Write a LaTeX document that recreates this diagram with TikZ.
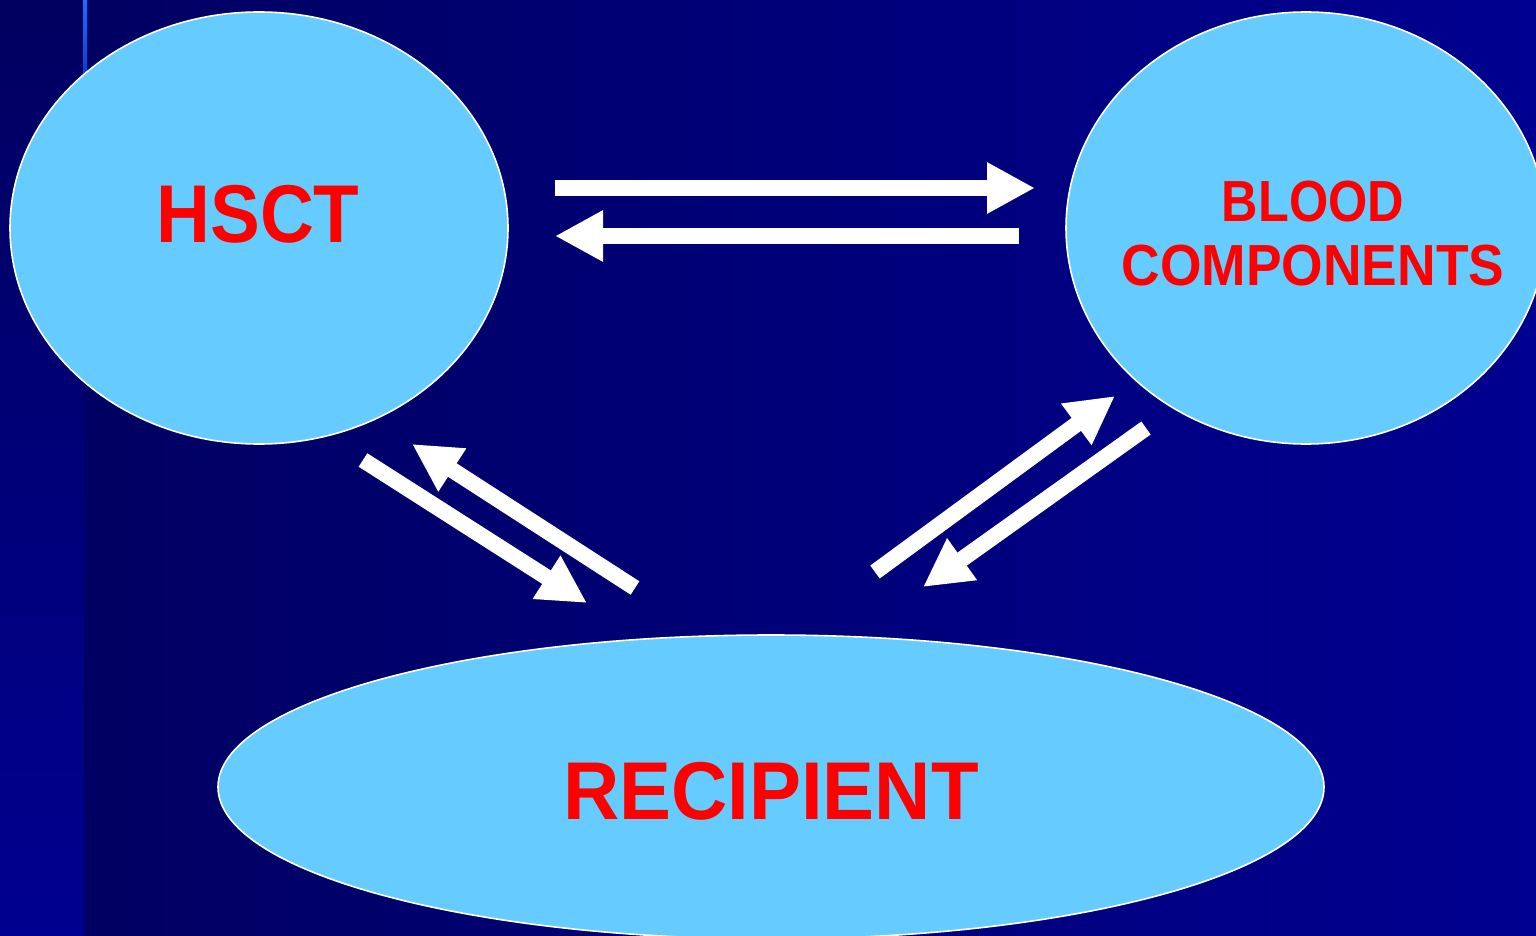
\documentclass[tikz,border=0pt]{standalone}
\usepackage{fontspec}
\setmainfont{Liberation Sans}
\usetikzlibrary{shapes.geometric,arrows.meta}
\definecolor{navyL}{HTML}{000062}
\definecolor{navyR}{HTML}{000090}
\definecolor{stripTop}{HTML}{000060}
\definecolor{stripBot}{HTML}{000090}
\definecolor{bubble}{HTML}{66CCFF}
\definecolor{ruleTop}{HTML}{1A70FF}
\definecolor{ruleBot}{HTML}{0035C8}
\tikzset{
  bubblenode/.style={ellipse, draw=white, line width=1.6pt, fill=bubble, inner sep=0pt},
  caption/.style={text=red, font=\bfseries, align=center, inner sep=0pt},
  flow/.style={draw=white, line width=16pt, -{Triangle[length=48pt,width=48pt]}},
}
\begin{document}
\begin{tikzpicture}[x=1pt,y=-1pt]
  \useasboundingbox (0,0) rectangle (1536,936);
  \clip (0,0) rectangle (1536,936);
  % background
  \shade[left color=navyL, right color=navyR] (84,0) rectangle (1536,936);
  \shade[top color=stripTop, bottom color=stripBot] (0,0) rectangle (84,936);
  \shade[top color=ruleTop, bottom color=ruleBot] (83,0) rectangle (87,90);

  % bubbles
  \node[bubblenode, minimum width=498pt, minimum height=432pt] (hsct) at (259,228) {};
  \node[bubblenode, minimum width=480pt, minimum height=432pt] (blood) at (1306,228) {};
  \node[bubblenode, minimum width=1106pt, minimum height=304pt] (recip) at (771,787) {};

  % captions
  \node[caption, font=\bfseries\fontsize{82}{90}\selectfont] (hsctlabel) at (258,214) {\scalebox{0.91}[1]{HSCT}};
  \node[caption, font=\bfseries\fontsize{58}{64}\selectfont, anchor=base] (bloodlabelA) at (1313,222) {\scalebox{0.87}[1]{BLOOD}};
  \node[caption, font=\bfseries\fontsize{58}{64}\selectfont, anchor=base] (bloodlabelB) at (1313,285) {\scalebox{0.92}[1]{COMPONENTS}};
  \node[caption, font=\bfseries\fontsize{82}{90}\selectfont] (reciplabel) at (771,791) {\scalebox{0.95}[1]{RECIPIENT}};

  % arrow end points
  \coordinate (hb1) at (555,188);  \coordinate (hb2) at (1035,188);
  \coordinate (bh1) at (1019,236); \coordinate (bh2) at (555,236);
  \coordinate (hr1) at (363,460);  \coordinate (hr2) at (587,603);
  \coordinate (rh1) at (635,588);  \coordinate (rh2) at (412,444);
  \coordinate (rb1) at (875,572);  \coordinate (rb2) at (1115,396);
  \coordinate (br1) at (1146,428); \coordinate (br2) at (923,587);

  % exchanges
  \draw[flow] (hb1) -- (hb2);
  \draw[flow] (bh1) -- (bh2);
  \draw[flow] (hr1) -- (hr2);
  \draw[flow] (rh1) -- (rh2);
  \draw[flow] (rb1) -- (rb2);
  \draw[flow] (br1) -- (br2);
\end{tikzpicture}
\end{document}
